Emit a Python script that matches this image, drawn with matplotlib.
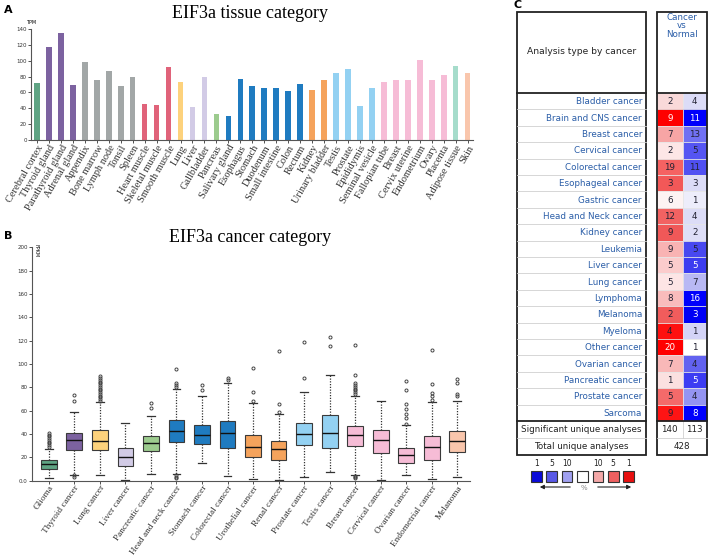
import numpy as np
import matplotlib.pyplot as plt
from matplotlib.patches import Rectangle

# ---------------- data ----------------
tissues = ["Cerebral cortex", "Thyroid gland", "Parathyroid gland", "Adrenal gland",
           "Appendix", "Bone marrow", "Lymph node", "Tonsil", "Spleen",
           "Heart muscle", "Skeletal muscle", "Smooth muscle", "Lung", "Liver",
           "Gallbladder", "Pancreas", "Salivary gland", "Esophagus", "Stomach",
           "Duodenum", "Small intestine", "Colon", "Rectum", "Kidney",
           "Urinary bladder", "Testis", "Prostate", "Epididymis", "Seminal vesicle",
           "Fallopian tube", "Breast", "Cervix uterine", "Endometrium", "Ovary",
           "Placenta", "Adipose tissue", "Skin"]
tpm = [72, 117, 135, 70, 99, 76, 87, 68, 79, 45, 44, 92, 73, 41, 79, 33, 30,
       77, 68, 66, 66, 62, 71, 63, 76, 84, 90, 43, 65, 73, 76, 76, 101, 76,
       82, 93, 84]
tissue_groups = ["brain"] + ["endo"] * 3 + ["lymph"] * 5 + ["muscle"] * 3 + \
    ["lung"] + ["liver"] * 2 + ["panc"] + ["gi"] * 7 + ["kidney"] * 2 + \
    ["male"] * 4 + ["female"] * 6 + ["adipose"] + ["skin"]

group_colors = {"brain": "#5fa383", "endo": "#7c62a0", "lymph": "#a2a7a7",
                "muscle": "#e0637a", "lung": "#fdd27c", "liver": "#d2cbe6",
                "panc": "#9ccb8e", "gi": "#1f7bc0", "kidney": "#f5a35c",
                "male": "#93d1f2", "female": "#f6bcd6", "adipose": "#a6dccb",
                "skin": "#f9c6ac"}

cancers_b = ["Glioma", "Thyroid cancer", "Lung cancer", "Liver cancer",
             "Pancreatic cancer", "Head and neck cancer", "Stomach cancer",
             "Colorectal cancer", "Urothelial cancer", "Renal cancer",
             "Prostate cancer", "Testis cancer", "Breast cancer", "Cervical cancer",
             "Ovarian cancer", "Endometrial cancer", "Melanoma"]
q1 = [10.4, 26, 26, 12.5, 25.2, 33, 31.3, 28.2, 20, 17.4, 30.4, 27.6, 29.6, 23.5, 15.1, 18, 24.3]
med = [14.5, 34.5, 34, 20.3, 32.5, 42.9, 38.9, 40.6, 29.3, 27.3, 40, 41.2, 38.9, 34.8, 22.3, 28.7, 33.9]
q3 = [17.7, 40.9, 43.2, 28.2, 38.6, 51.6, 47.6, 50.8, 39.1, 33.7, 49.3, 56.3, 47.3, 43.8, 28.2, 38.6, 42.6]
whis_lo = [2.6, 5, 5.2, 0.3, 5.8, 5.8, 15.4, 3.8, 1.5, 0.3, 3.5, 7.6, 4.5, 0.5, 4.7, 1.2, 3.2]
whis_hi = [27.3, 59, 67.8, 49.3, 55.7, 78.3, 72.2, 83.5, 66.4, 57, 76, 91, 73, 68.7, 47.6, 67.8, 68.7]
outliers = [
    [29, 30.5, 32, 33.5, 35, 36.5, 38, 39.5, 40.5],
    [3.5, 4.5, 68, 73.5],
    [68.5, 70, 71.5, 73, 74.5, 76, 77.5, 79, 80.5, 82, 83.5, 85, 86.5, 88, 89.5],
    [],
    [62, 66.5],
    [2.5, 3.5, 4.5, 80, 81.7, 83.8, 95.4],
    [78, 82],
    [86.7, 88.4],
    [68, 76, 97],
    [59, 66, 111],
    [88, 119],
    [115, 123],
    [2, 3, 4, 74.5, 76, 77.5, 79, 80.5, 82, 84, 90.5, 116, 204],
    [],
    [48.5, 53.5, 57, 61.5, 66, 77.5, 85.5],
    [69, 73, 75, 83, 111.6],
    [73, 74.5, 84, 87],
]
cancer_groups = ["brain", "endo", "lung", "liver", "panc", "gi", "gi", "gi",
                 "kidney", "kidney", "male", "male", "female", "female",
                 "female", "female", "skin"]
fpkm_ticks = [0, 20, 40, 60, 80, 100, 120, 140, 160, 180, 200]
fpkm_labels = ["0.0", "20", "40", "60", "80", "100", "120", "140", "160", "180", "200"]

cancers_c = ["Bladder cancer", "Brain and CNS cancer", "Breast cancer", "Cervical cancer",
             "Colorectal cancer", "Esophageal cancer", "Gastric cancer",
             "Head and Neck cancer", "Kidney cancer", "Leukemia", "Liver cancer",
             "Lung cancer", "Lymphoma", "Melanoma", "Myeloma", "Other cancer",
             "Ovarian cancer", "Pancreatic cancer", "Prostate cancer", "Sarcoma"]
up_counts = [2, 9, 7, 2, 19, 3, 6, 12, 9, 9, 5, 5, 8, 2, 4, 20, 7, 1, 5, 9]
down_counts = [4, 11, 13, 5, 11, 3, 1, 4, 2, 5, 5, 7, 16, 3, 1, 1, 4, 5, 4, 8]
up_colors = ["#f9d9d9", "#fe0000", "#f7a5a5", "#fde6e6", "#f56262", "#f25858",
             "#fdf3f3", "#f26262", "#f05858", "#f9b3b3", "#fbcccc", "#fde5e5",
             "#f9bcbc", "#f15c5c", "#fe1010", "#ff0000", "#f9b8b8", "#fbe0e0",
             "#f46a6a", "#fe1414"]
down_colors = ["#dcdcf7", "#0000fc", "#7070f3", "#5555f2", "#5050f2", "#dcdcf7",
               "#ededfb", "#dcdcf7", "#dedef7", "#4848f0", "#3c3cf0", "#b8b8f4",
               "#0000fc", "#0000f5", "#d3d3f6", "#ffffff", "#6262f0", "#3c3cf2",
               "#9494f2", "#0000fc"]
sig_up, sig_down, total = 140, 113, 428
legend_labels = ["1", "5", "10", "", "10", "5", "1"]
legend_colors = ["#0a0ad8", "#5858e6", "#a0a0f0", "#ffffff", "#f4a8a8", "#ee6060", "#e81010"]

serif = "Liberation Serif"

W, H = 709, 556
fig = plt.figure(figsize=(W / 100, H / 100), dpi=100)


def frac(x0, y0, x1, y1):
    return [x0 / W, 1 - y1 / H, (x1 - x0) / W, (y1 - y0) / H]


def style_axes(ax):
    for s in ["top", "right"]:
        ax.spines[s].set_visible(False)
    for s in ["left", "bottom"]:
        ax.spines[s].set_color("#555555")
        ax.spines[s].set_linewidth(0.8)
    ax.tick_params(axis="y", labelsize=4, length=2, width=0.6, colors="#333333", pad=1)
    ax.tick_params(axis="x", length=2, width=0.6, colors="#333333", pad=0.5)


# ---------------- panel A ----------------
axA = fig.add_axes(frac(31, 29, 473, 140))
xa = np.arange(len(tissues))
axA.bar(xa, tpm, width=0.47, color=[group_colors[g] for g in tissue_groups])
axA.set_xlim(-0.5, len(tissues) - 0.55)
axA.set_ylim(0, 140)
axA.set_yticks(np.arange(0, 141, 20))
axA.set_xticks(xa)
axA.set_xticklabels(tissues, rotation=60, ha="right", rotation_mode="anchor",
                    fontsize=7.5, family=serif, color="#222222")
style_axes(axA)
fig.text(31 / W, 1 - 22 / H, "TPM", fontsize=3.5, ha="center", va="center")
fig.text(250 / W, 1 - 13 / H, "EIF3a tissue category", fontsize=13, family=serif,
         ha="center", va="center")
fig.text(4 / W, 1 - 10 / H, "A", fontsize=8, fontweight="bold", va="center")

# ---------------- panel B ----------------
axB = fig.add_axes(frac(32, 247.3, 470, 480.7))
stats = []
for i, name in enumerate(cancers_b):
    stats.append({"label": name, "q1": q1[i], "med": med[i], "q3": q3[i],
                  "whislo": whis_lo[i], "whishi": whis_hi[i], "fliers": outliers[i]})
xb = np.arange(len(cancers_b))
bp = axB.bxp(stats, positions=xb, widths=0.62, patch_artist=True,
             boxprops=dict(edgecolor="#3a3a3a", linewidth=0.8),
             medianprops=dict(color="#111111", linewidth=1.0),
             whiskerprops=dict(color="#333333", linestyle=(0, (1, 1.2)), linewidth=0.9),
             capprops=dict(color="#333333", linewidth=0.9),
             flierprops=dict(marker="o", markersize=2.2, markerfacecolor="none",
                             markeredgecolor="#444444", markeredgewidth=0.7))
for patch, g in zip(bp["boxes"], cancer_groups):
    patch.set_facecolor(group_colors[g])
axB.set_xlim(-0.66, len(cancers_b) - 0.5)
axB.set_ylim(0, 200)
axB.set_yticks(fpkm_ticks)
axB.set_yticklabels(fpkm_labels)
axB.set_xticks(xb)
axB.set_xticklabels(cancers_b, rotation=55, ha="right", rotation_mode="anchor",
                    fontsize=6.7, family=serif, color="#222222")
style_axes(axB)
fig.text(36 / W, 1 - 251 / H, "FPKM", fontsize=3.5, rotation=270, ha="center", va="center")
fig.text(250 / W, 1 - 238 / H, "EIF3a cancer category", fontsize=13, family=serif,
         ha="center", va="center")
fig.text(4 / W, 1 - 236 / H, "B", fontsize=8, fontweight="bold", va="center")

# ---------------- panel C ----------------
axC = fig.add_axes([500 / W, 0, 209 / W, 1])
axC.set_xlim(500, 709)
axC.set_ylim(H, 0)
axC.axis("off")

lx0, lx1 = 517, 646
rx0, rmid, rx1 = 657, 682.5, 707
top, head_bot = 12, 93
row_h = 16.4
n = len(cancers_c)
rows_bot = head_bot + n * row_h
sig_bot = rows_bot + 17
tot_bot = sig_bot + 16.5
blue_txt = "#2b5ea8"
fs = 6.3

for i in range(n):
    y0 = head_bot + i * row_h
    axC.add_patch(Rectangle((rx0, y0), rmid - rx0, row_h, facecolor=up_colors[i],
                            edgecolor="#e6e6e6", linewidth=0.5))
    axC.add_patch(Rectangle((rmid, y0), rx1 - rmid, row_h, facecolor=down_colors[i],
                            edgecolor="#e6e6e6", linewidth=0.5))
    for xc, val, c in [((rx0 + rmid) / 2, up_counts[i], up_colors[i]),
                       ((rmid + rx1) / 2, down_counts[i], down_colors[i])]:
        r, g, b = [int(c[k:k + 2], 16) / 255 for k in (1, 3, 5)]
        lum = 0.299 * r + 0.587 * g + 0.114 * b
        tc = "white" if lum < 0.33 else "#222233"
        axC.text(xc, y0 + row_h / 2 + 0.5, str(val), fontsize=fs, color=tc,
                 ha="center", va="center")
    axC.text(lx1 - 4, y0 + row_h / 2 + 0.5, cancers_c[i], fontsize=fs, color=blue_txt,
             ha="right", va="center")
    if i > 0:
        axC.plot([lx0, lx1], [y0, y0], color="#d0d0d0", linewidth=0.6)

# summary rows
axC.plot([lx0, lx1], [sig_bot, sig_bot], color="#d0d0d0", linewidth=0.6)
axC.plot([rx0, rx1], [sig_bot, sig_bot], color="#d0d0d0", linewidth=0.6)
axC.plot([rmid, rmid], [rows_bot, sig_bot], color="#d0d0d0", linewidth=0.6)
axC.text((lx0 + lx1) / 2, (rows_bot + sig_bot) / 2 + 0.5, "Significant unique analyses",
         fontsize=fs, color="#222222", ha="center", va="center")
axC.text((lx0 + lx1) / 2, (sig_bot + tot_bot) / 2 + 0.5, "Total unique analyses",
         fontsize=fs, color="#222222", ha="center", va="center")
axC.text((rx0 + rmid) / 2, (rows_bot + sig_bot) / 2 + 0.5, str(sig_up), fontsize=fs,
         color="#222222", ha="center", va="center")
axC.text((rmid + rx1) / 2, (rows_bot + sig_bot) / 2 + 0.5, str(sig_down), fontsize=fs,
         color="#222222", ha="center", va="center")
axC.text((rx0 + rx1) / 2, (sig_bot + tot_bot) / 2 + 0.5, str(total), fontsize=fs,
         color="#222222", ha="center", va="center")

# thick frames
for x0, x1 in [(lx0, lx1), (rx0, rx1)]:
    axC.add_patch(Rectangle((x0, top), x1 - x0, tot_bot - top, facecolor="none",
                            edgecolor="#222222", linewidth=1.3))
    axC.plot([x0, x1], [head_bot, head_bot], color="#222222", linewidth=1.3)
    axC.plot([x0, x1], [rows_bot, rows_bot], color="#222222", linewidth=1.3)

axC.text((lx0 + lx1) / 2, 52, "Analysis type by cancer", fontsize=6.6,
         color="#222222", ha="center", va="center")
axC.text((rx0 + rx1) / 2, 26, "Cancer\nvs\nNormal", fontsize=6.3, color=blue_txt,
         ha="center", va="center", linespacing=0.95)
axC.text(513, 5, "C", fontsize=8, fontweight="bold", va="center")

# legend
sq = 10.5
for k, (lab, col) in enumerate(zip(legend_labels, legend_colors)):
    x0 = 531 + k * 15.4
    axC.add_patch(Rectangle((x0, 471), sq, sq, facecolor=col, edgecolor="#333333",
                            linewidth=0.8))
    axC.text(x0 + sq / 2, 463.5, lab, fontsize=5.5, color="#222222",
             ha="center", va="center")
axC.annotate("", xy=(537, 487), xytext=(573, 487),
             arrowprops=dict(arrowstyle="-|>", color="#222222", lw=0.8, mutation_scale=6))
axC.annotate("", xy=(634, 487), xytext=(595, 487),
             arrowprops=dict(arrowstyle="-|>", color="#222222", lw=0.8, mutation_scale=6))
axC.text(584, 487.5, "%", fontsize=5, color="#888888", ha="center", va="center")

fig.savefig("out.png", dpi=100)
